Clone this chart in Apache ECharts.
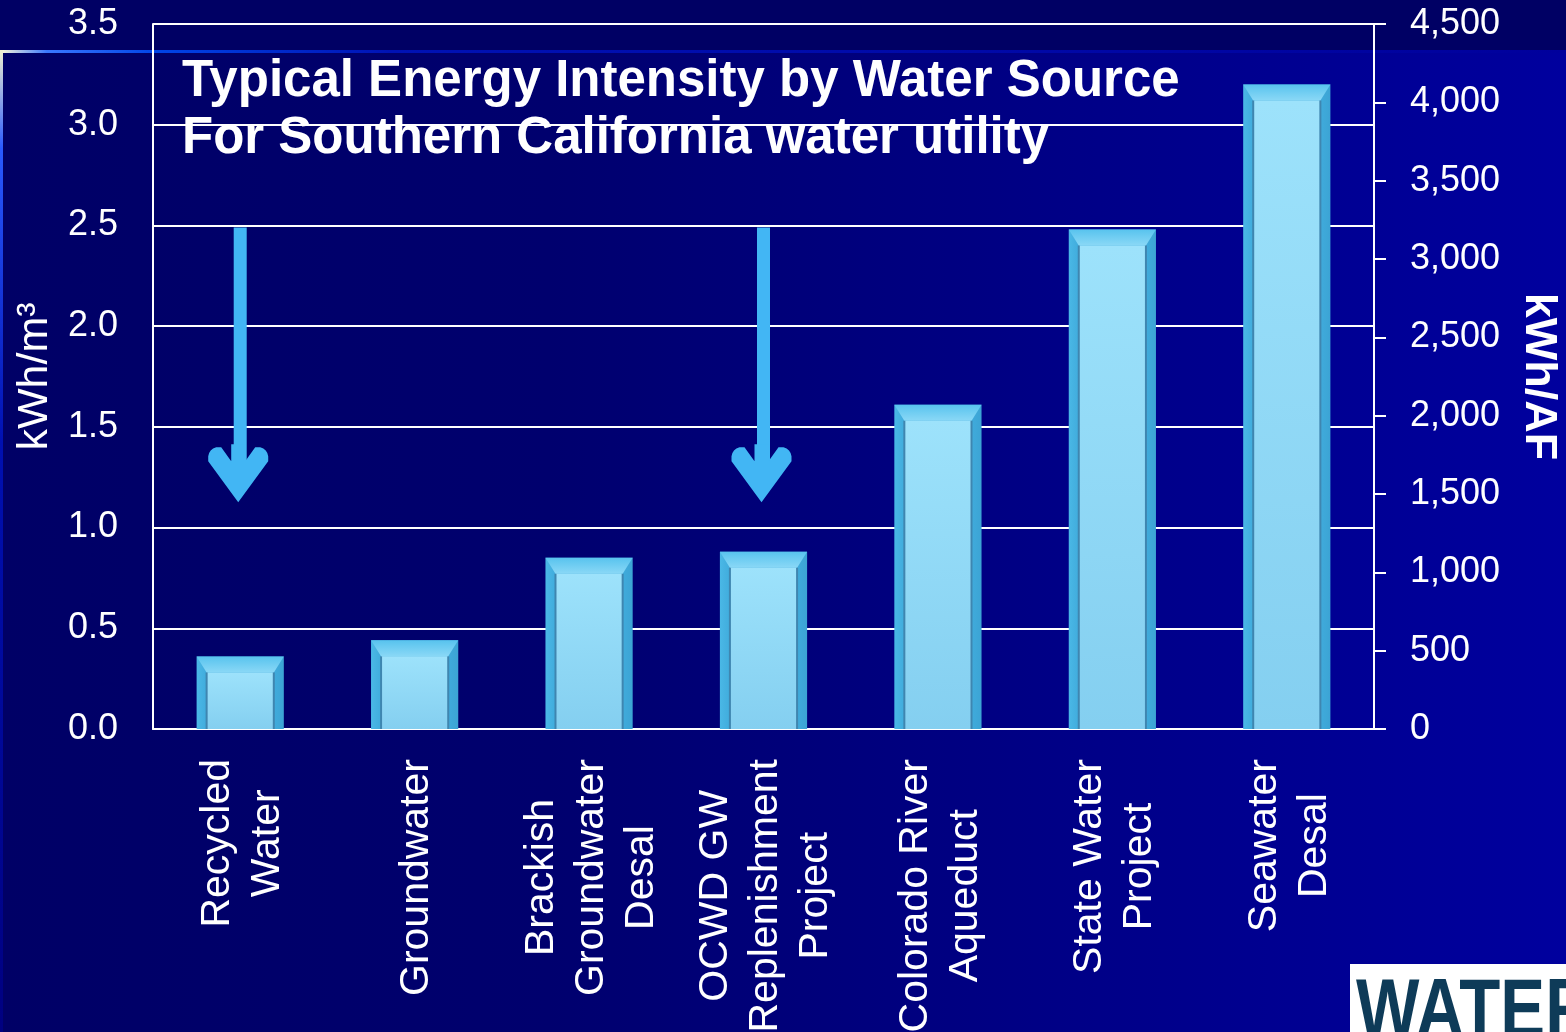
<!DOCTYPE html>
<html>
<head>
<meta charset="utf-8">
<script src="https://cdn.jsdelivr.net/npm/echarts@6/dist/echarts.min.js"></script>
<style>
html,body{margin:0;padding:0;background:#000066;}
#chart{width:1566px;height:1032px;}
</style>
</head>
<body>
<div id="chart"></div>
<script>
// ---- data ----
const categories = ['Recycled\nWater', 'Groundwater', 'Brackish\nGroundwater\nDesal', 'OCWD GW\nReplenishment\nProject', 'Colorado River\nAqueduct', 'State Water\nProject', 'Seawater\nDesal'];
const kwhPerM3 = [0.36, 0.44, 0.85, 0.88, 1.61, 2.48, 3.20];
const arrowCategoryIndex = [0, 3];
const arrowTopValue = 2.49;
const arrowHeadValue = 1.27;
const titleLines = ['Typical Energy Intensity by Water Source', 'For Southern California water utility'];
const leftAxisName = 'kWh/m\u00B3';
const rightAxisName = 'kWh/AF';
const logoText = 'WATER';

const FONT = '"Liberation Sans", Arial, sans-serif';
const chart = echarts.init(document.getElementById('chart'), null, {renderer: 'canvas'});

function renderBar(params, api) {
  const idx = api.value(0);
  const top = api.coord([idx, api.value(1)]);
  const base = api.coord([idx, 0]);
  const bw = api.size([1, 0])[0] * 0.5;
  const left = top[0] - bw / 2, right = top[0] + bw / 2;
  const t = top[1], b = base[1];
  const h = b - t;
  const sx = bw * 0.115;
  const st = Math.min(16, h * 0.22);
  return {
    type: 'group',
    children: [
      {type: 'rect', shape: {x: left, y: t, width: bw, height: h},
        style: {fill: new echarts.graphic.LinearGradient(0, 0, 1, 0, [
          {offset: 0, color: '#4ab8e6'}, {offset: 0.12, color: '#40abdc'},
          {offset: 0.88, color: '#40abdc'}, {offset: 1, color: '#3ca4d4'}])}},
      {type: 'polygon', shape: {points: [[left, t], [right, t], [right - sx, t + st], [left + sx, t + st]]},
        style: {fill: new echarts.graphic.LinearGradient(0, 0, 0, 1, [
          {offset: 0, color: '#58c3ee'}, {offset: 1, color: '#8ad8f6'}])}},
      {type: 'rect', shape: {x: left + sx, y: t + st, width: bw - 2 * sx, height: h - st},
        style: {fill: new echarts.graphic.LinearGradient(0, 0, 0, 1, [
          {offset: 0, color: '#9de2fb'}, {offset: 1, color: '#84cff0'}])}},
      {type: 'line', shape: {x1: left + sx, y1: t + st, x2: left + sx, y2: b},
        style: {stroke: '#3f86b0', lineWidth: 2}},
      {type: 'line', shape: {x1: right - sx, y1: t + st, x2: right - sx, y2: b},
        style: {stroke: '#3f86b0', lineWidth: 2}}
    ]
  };
}

// chevron arrow head pointing down, with a short stem piece on top
const arrowHeadPath = 'path://M30,58 L60,17 L60,12 Q59,5 52,3 L47,3 L37,17 L37,0 L23,0 L23,17 L13,3 L8,3 Q1,5 0,12 L0,17 Z';

const series = [
  {
    type: 'custom',
    renderItem: renderBar,
    encode: {x: 0, y: 1},
    data: kwhPerM3.map((v, i) => [i, v]),
    z: 3
  }
];
arrowCategoryIndex.forEach(ci => {
  series.push({
    type: 'line',
    data: [[ci, arrowTopValue], [ci, arrowHeadValue]],
    symbol: 'none',
    lineStyle: {color: '#42b6f4', width: 13, cap: 'butt'},
    z: 4,
    silent: true
  });
  series.push({
    type: 'scatter',
    data: [[ci, arrowHeadValue]],
    symbol: arrowHeadPath,
    symbolSize: [60, 58],
    symbolOffset: [-2, 0],
    itemStyle: {color: '#42b6f4', opacity: 1},
    z: 5,
    silent: true
  });
});

const option = {
  animation: false,
  backgroundColor: 'transparent',
  graphic: [
    {type: 'rect', z: -20, shape: {x: 0, y: 0, width: 1566, height: 1032},
      style: {fill: new echarts.graphic.LinearGradient(0, 0, 1, 0, [
        {offset: 0, color: '#000066'}, {offset: 0.35, color: '#00006e'}, {offset: 1, color: '#00009e'}])}},
    {type: 'rect', z: -19, shape: {x: 0, y: 0, width: 1566, height: 51}, style: {fill: '#000064'}},
    {type: 'rect', z: -18, shape: {x: 0, y: 50, width: 1566, height: 3},
      style: {fill: new echarts.graphic.LinearGradient(0, 0, 1, 0, [
        {offset: 0, color: '#fffad8'}, {offset: 0.03, color: '#3a78ff'}, {offset: 0.1, color: '#0044e6'},
        {offset: 0.25, color: '#0012b4'}, {offset: 1, color: '#00009c'}])}},
    {type: 'rect', z: -18, shape: {x: 0, y: 50, width: 3, height: 982},
      style: {fill: new echarts.graphic.LinearGradient(0, 0, 0, 1, [
        {offset: 0, color: '#f0f0d0'}, {offset: 0.1, color: '#2a5aff'}, {offset: 0.4, color: '#0010b0'}, {offset: 1, color: '#000080'}])}},
    {type: 'rect', z: 50, shape: {x: 1350, y: 964, width: 216, height: 68}, style: {fill: '#ffffff'}},
    {type: 'text', z: 51, x: 1356, y: 972, scaleX: 0.8, scaleY: 1,
      style: {text: logoText, fill: '#0e3b58', font: 'bold 84px ' + FONT, textVerticalAlign: 'top'}},
    {type: 'text', z: 20, left: 182, top: 53,
      style: {text: titleLines.join('\n'), fill: '#ffffff', font: 'bold 51px ' + FONT, lineHeight: 57}}
  ],
  grid: {left: 153, right: 192, top: 24, bottom: 303, containLabel: false, outerBoundsMode: 'none'},
  xAxis: {
    type: 'category',
    data: categories,
    axisLine: {show: true, lineStyle: {color: '#ffffff', width: 2}},
    axisTick: {show: false},
    axisLabel: {
      interval: 0, rotate: 90, margin: 30,
      color: '#ffffff', fontSize: 41, lineHeight: 50, fontFamily: FONT,
      formatter: v => v.split('\n').map(l => '{c|' + l + '}').join('\n'),
      rich: {c: {align: 'center', color: '#ffffff', fontSize: 41, lineHeight: 50, fontFamily: FONT, padding: [5, 0, 0, 0]}}
    }
  },
  yAxis: [
    {
      type: 'value', min: 0, max: 3.5, interval: 0.5, position: 'left',
      name: leftAxisName, nameLocation: 'middle', nameRotate: 90, nameGap: 96,
      nameTextStyle: {color: '#ffffff', fontSize: 43, fontFamily: FONT},
      axisLine: {show: true, lineStyle: {color: '#ffffff', width: 2}},
      axisTick: {show: false},
      axisLabel: {color: '#ffffff', fontSize: 36, fontFamily: FONT, margin: 35,
        formatter: v => v.toFixed(1)},
      splitLine: {show: true, lineStyle: {color: '#ffffff', width: 2}}
    },
    {
      type: 'value', min: 0, max: 4500, interval: 500, position: 'right',
      name: rightAxisName, nameLocation: 'middle', nameRotate: -90, nameGap: 142,
      nameTextStyle: {color: '#ffffff', fontSize: 45, fontWeight: 'bold', fontFamily: FONT},
      axisLine: {show: true, lineStyle: {color: '#ffffff', width: 2}},
      axisTick: {show: true, length: 12, inside: false, lineStyle: {color: '#ffffff', width: 2}},
      axisLabel: {color: '#ffffff', fontSize: 36, fontFamily: FONT, margin: 36,
        formatter: v => v.toLocaleString('en-US')},
      splitLine: {show: false}
    }
  ],
  series: series
};
chart.setOption(option);
</script>
</body>
</html>
